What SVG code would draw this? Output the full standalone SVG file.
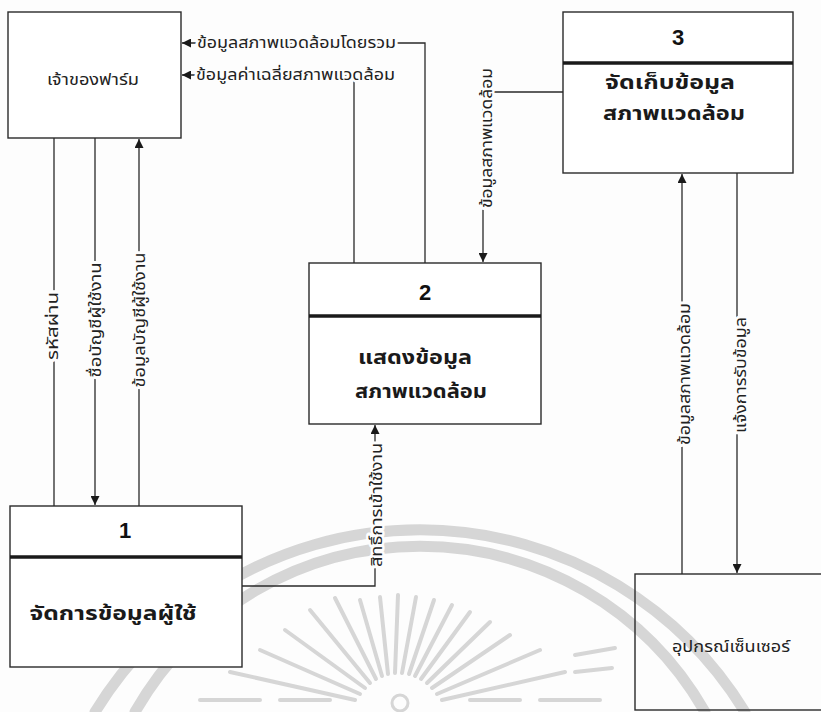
<svg xmlns="http://www.w3.org/2000/svg" width="821" height="712" viewBox="0 0 821 712">
<style>
.bg{fill:#fdfdfd}
.box{fill:#ffffff;stroke:#2a2a2a;stroke-width:1.4}
.open{fill:none;stroke:#2a2a2a;stroke-width:1.4}
.div{stroke:#1a1a1a;stroke-width:3.5}
.num{font-family:"Liberation Sans",Arial,sans-serif;font-weight:bold;font-size:22px;fill:#111;text-anchor:middle}
.title{font-family:"Noto Sans Thai","Noto Sans","DejaVu Sans",sans-serif;font-weight:bold;font-size:20px;fill:#1a1a1a;text-anchor:middle}
.ent{font-family:"Noto Sans Thai","Noto Sans","DejaVu Sans",sans-serif;font-size:15px;fill:#222;text-anchor:middle}
.lab{font-family:"Noto Sans Thai","Noto Sans","DejaVu Sans",sans-serif;font-size:15px;fill:#222;stroke:#fdfdfd;stroke-width:5;paint-order:stroke;stroke-linejoin:round}
.conn{fill:none;stroke:#2a2a2a;stroke-width:1.3}
.wm{fill:none;stroke:#d6d6d6;stroke-linecap:round}
</style>
<defs>
<marker id="arr" viewBox="0 0 10 10" refX="10" refY="5" markerWidth="9" markerHeight="9" markerUnits="userSpaceOnUse" orient="auto">
<path d="M0,0 L10,5 L0,10 z" fill="#1a1a1a"/>
</marker>
</defs>
<rect class="bg" x="0" y="0" width="821" height="712"/>
<g id="watermark">
<path class="wm" stroke-width="11" d="M95,712 A381,381 0 0 1 745,712"/>
<path class="wm" stroke-width="11" d="M135,712 A328,328 0 0 1 705,712"/>
<g stroke-width="4" class="wm">
<line x1="360" y1="694" x2="260" y2="650"/>
<line x1="365" y1="688" x2="285" y2="630"/>
<line x1="370" y1="683" x2="310" y2="610"/>
<line x1="376" y1="679" x2="335" y2="598"/>
<line x1="382" y1="676" x2="360" y2="600"/>
<line x1="388" y1="674" x2="380" y2="597"/>
<line x1="395" y1="673" x2="398" y2="595"/>
<line x1="402" y1="673" x2="416" y2="597"/>
<line x1="409" y1="674" x2="434" y2="600"/>
<line x1="415" y1="676" x2="452" y2="605"/>
<line x1="421" y1="679" x2="470" y2="612"/>
<line x1="427" y1="683" x2="490" y2="622"/>
<line x1="432" y1="688" x2="510" y2="635"/>
<line x1="437" y1="694" x2="540" y2="650"/>
<line x1="355" y1="700" x2="230" y2="672"/>
<line x1="442" y1="700" x2="565" y2="672"/>
</g>
<circle cx="400" cy="703" r="8" fill="none" stroke="#d6d6d6" stroke-width="3"/>
<g stroke-width="4" class="wm">
<line x1="200" y1="700" x2="260" y2="700"/>
<line x1="280" y1="700" x2="330" y2="700"/>
<line x1="470" y1="700" x2="520" y2="700"/>
<line x1="540" y1="700" x2="600" y2="700"/>
<line x1="575" y1="655" x2="615" y2="648"/>
<line x1="575" y1="672" x2="612" y2="668"/>
</g>
</g>
<g id="connectors">
<path class="conn" d="M425,263 V43 H182" marker-end="url(#arr)"/>
<path class="conn" d="M354,263 V75 H182" marker-end="url(#arr)"/>
<path class="conn" d="M563,92 H483 V262" marker-end="url(#arr)"/>
<path class="conn" d="M54,138 V506"/>
<path class="conn" d="M95,138 V505" marker-end="url(#arr)"/>
<path class="conn" d="M139,506 V139" marker-end="url(#arr)"/>
<path class="conn" d="M242,586 H375 V425" marker-end="url(#arr)"/>
<path class="conn" d="M682,574 V174" marker-end="url(#arr)"/>
<path class="conn" d="M737,173 V573" marker-end="url(#arr)"/>
<text class="lab" x="197" y="48" textLength="199" lengthAdjust="spacingAndGlyphs">ข้อมูลสภาพแวดล้อมโดยรวม</text>
<text class="lab" x="196" y="80" textLength="199" lengthAdjust="spacingAndGlyphs">ข้อมูลค่าเฉลี่ยสภาพแวดล้อม</text>
<text class="lab" text-anchor="middle" transform="translate(487,138) rotate(-90)" dy="0.35em" textLength="140" lengthAdjust="spacingAndGlyphs">ข้อมูลสภาพแวดล้อม</text>
<text class="lab" text-anchor="middle" transform="translate(53,326) rotate(-90)" dy="0.35em" textLength="68" lengthAdjust="spacingAndGlyphs">รหัสผ่าน</text>
<text class="lab" text-anchor="middle" transform="translate(96,320) rotate(-90)" dy="0.35em" textLength="115" lengthAdjust="spacingAndGlyphs">ชื่อบัญชีผู้ใช้งาน</text>
<text class="lab" text-anchor="middle" transform="translate(140,320) rotate(-90)" dy="0.35em" textLength="135" lengthAdjust="spacingAndGlyphs">ข้อมูลบัญชีผู้ใช้งาน</text>
<text class="lab" text-anchor="middle" transform="translate(377,505) rotate(-90)" dy="0.35em" textLength="124" lengthAdjust="spacingAndGlyphs">สิทธิ์การเข้าใช้งาน</text>
<text class="lab" text-anchor="middle" transform="translate(685,374) rotate(-90)" dy="0.35em" textLength="142" lengthAdjust="spacingAndGlyphs">ข้อมูลสภาพแวดล้อม</text>
<text class="lab" text-anchor="middle" transform="translate(741,375) rotate(-90)" dy="0.35em" textLength="116" lengthAdjust="spacingAndGlyphs">แจ้งการรับข้อมูล</text>
</g>
<g id="owner">
<rect class="box" x="8" y="12" width="173" height="126"/>
<text class="ent" x="93" y="85" textLength="92" lengthAdjust="spacingAndGlyphs">เจ้าของฟาร์ม</text>
</g>
<g id="process1">
<rect class="box" x="10" y="506" width="232" height="161"/>
<line class="div" x1="10" y1="557" x2="242" y2="557"/>
<text class="num" x="125" y="538">1</text>
<text class="title" x="113" y="620" textLength="167" lengthAdjust="spacingAndGlyphs">จัดการข้อมูลผู้ใช้</text>
</g>
<g id="process2">
<rect class="box" x="309" y="263" width="232" height="161"/>
<line class="div" x1="309" y1="316" x2="541" y2="316"/>
<text class="num" x="425" y="300">2</text>
<text class="title" x="415" y="364" textLength="114" lengthAdjust="spacingAndGlyphs">แสดงข้อมูล</text>
<text class="title" x="421" y="398" textLength="132" lengthAdjust="spacingAndGlyphs">สภาพแวดล้อม</text>
</g>
<g id="process3">
<rect class="box" x="563" y="12" width="230" height="161"/>
<line class="div" x1="563" y1="63" x2="793" y2="63"/>
<text class="num" x="678" y="45">3</text>
<text class="title" x="670" y="89" textLength="130" lengthAdjust="spacingAndGlyphs">จัดเก็บข้อมูล</text>
<text class="title" x="674" y="120" textLength="142" lengthAdjust="spacingAndGlyphs">สภาพแวดล้อม</text>
</g>
<g id="sensor">
<rect class="open" x="635" y="574" width="200" height="136"/>
<text class="ent" x="731" y="652" textLength="118" lengthAdjust="spacingAndGlyphs">อุปกรณ์เซ็นเซอร์</text>
</g>
</svg>
